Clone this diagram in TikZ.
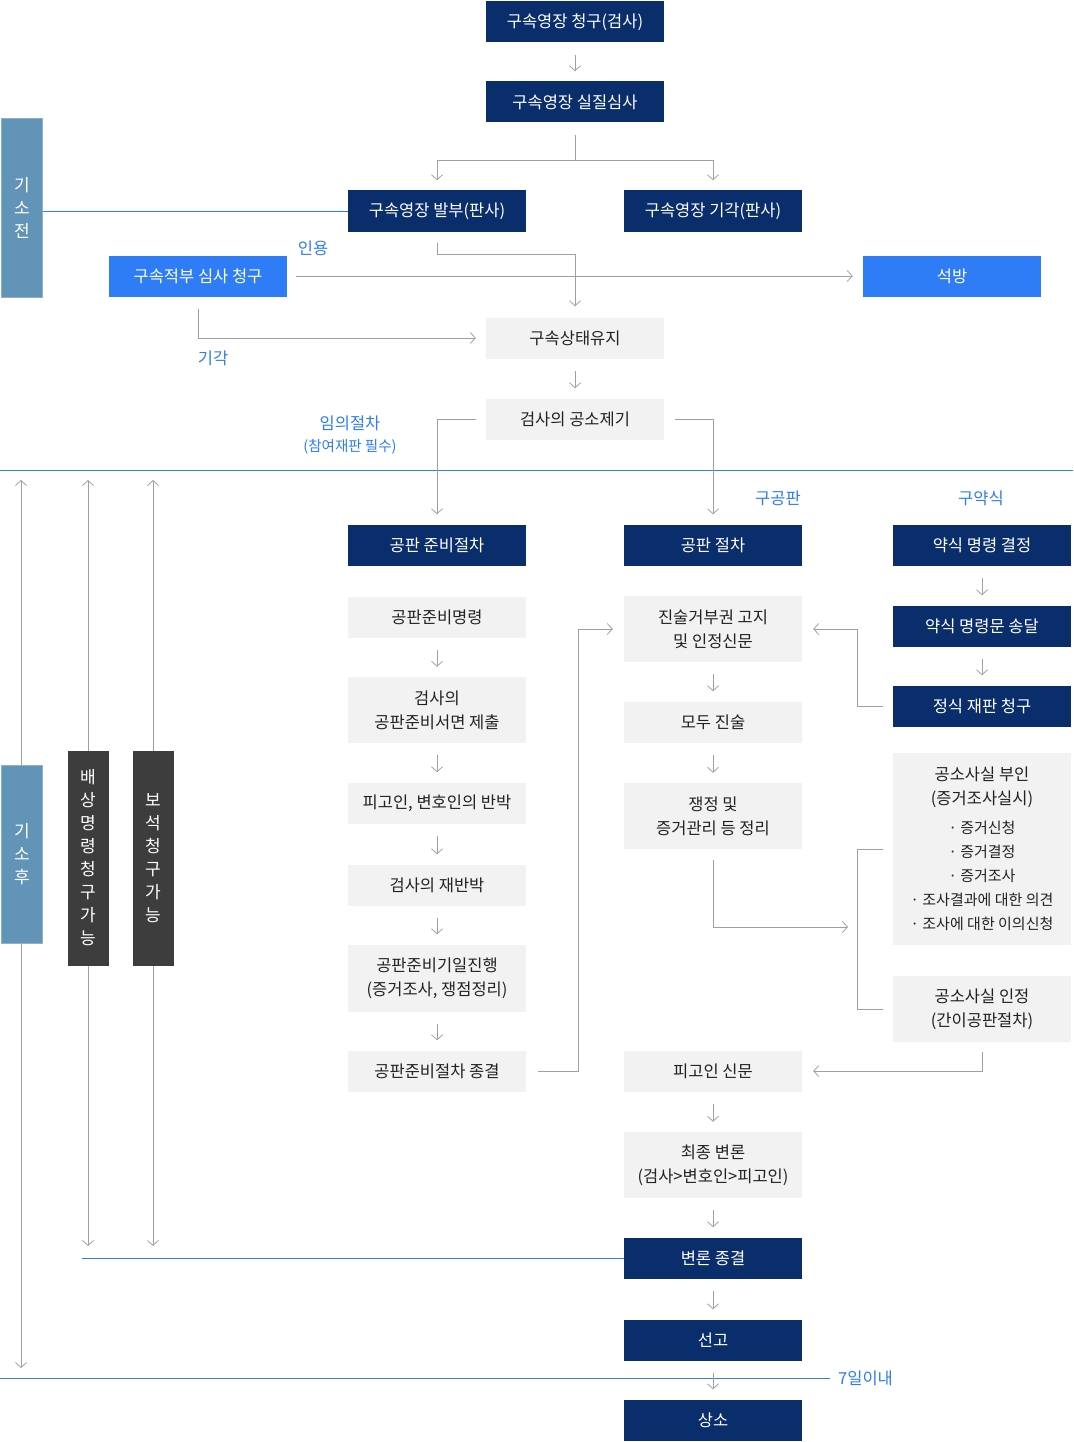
\documentclass[tikz,border=0pt]{standalone}
\usepackage{fontspec}
\setmainfont{Noto Sans CJK KR}
\usetikzlibrary{arrows.meta}
\definecolor{FillNavy}{RGB}{10,46,107}
\definecolor{FillBright}{RGB}{46,124,246}
\definecolor{FillSteel}{RGB}{98,148,183}
\definecolor{EdgeSteel}{RGB}{140,178,205}
\definecolor{FillStep}{RGB}{242,242,242}
\definecolor{FillDark}{RGB}{61,61,61}
\definecolor{TextDark}{RGB}{34,34,34}
\definecolor{LineGray}{RGB}{160,160,160}
\definecolor{LineBlue}{RGB}{46,124,246}
\newcommand{\bul}[1]{{\fontsize{15}{23}\selectfont · #1}}

\begin{document}
\begin{tikzpicture}[x=1pt, y=-1pt,
    navy/.style={fill=FillNavy, text=white, minimum width=178pt, minimum height=41pt, inner sep=0pt, align=center, font=\fontsize{16.5}{24}\selectfont},
    bright/.style={navy, fill=FillBright},
    stage/.style={navy, fill=FillStep, text=TextDark},
    side/.style={fill=FillSteel, draw=EdgeSteel, line width=1pt, text=white, minimum width=41pt, inner sep=0pt, align=center, font=\fontsize{17}{23}\selectfont},
    dark/.style={side, fill=FillDark, draw=none},
    tag/.style={text=LineBlue, inner sep=0pt, align=center, font=\fontsize{16.5}{22}\selectfont},
    conn/.style={draw=LineGray, line width=0.8pt},
    arr/.style={conn, -{Straight Barb[length=5pt, width=11pt]}},
    flow/.style={arr, shorten <=12pt, shorten >=10pt},
    dbl/.style={conn, {Straight Barb[length=5pt, width=11pt]}-{Straight Barb[length=5pt, width=11pt]}},
    rule/.style={draw=LineBlue, line width=1pt}
]
\useasboundingbox (0,0) rectangle (1073,1442);

%% ---- 기소 전/후 구분선 ----
\coordinate (splitL) at (0,470);
\coordinate (splitR) at (1073,470);
\draw[rule] (splitL) -- (splitR);

%% ---- 왼쪽 기간 표시 ----
\coordinate (afterT) at (21,480);
\coordinate (afterB) at (21,1368);
\coordinate (compT) at (88,480);
\coordinate (compB) at (88,1246);
\coordinate (bailT) at (153,480);
\coordinate (bailB) at (153,1246);
\draw[dbl] (afterT) -- (afterB);
\draw[dbl] (compT) -- (compB);
\draw[dbl] (bailT) -- (bailB);

\node[side, minimum height=179pt] (before) at (22,208) {기\\소\\전};
\node[side, minimum height=178pt] (after)  at (22,854) {기\\소\\후};
\node[dark, minimum height=215pt] (comp)   at (88,858) {배\\상\\명\\령\\청\\구\\가\\능};
\node[dark, minimum height=215pt] (bail)   at (153,858) {보\\석\\청\\구\\가\\능};

%% ---- 구속 단계 ----
\node[navy]   (claim)   at (575,22)  {구속영장 청구(검사)};
\node[navy]   (hearing) at (575,102) {구속영장 실질심사};
\node[navy]   (issue)   at (437,211) {구속영장 발부(판사)};
\node[navy]   (dismiss) at (713,211) {구속영장 기각(판사)};
\node[bright] (review)  at (198,276) {구속적부 심사 청구};
\node[bright] (release) at (952,276) {석방};
\node[stage]  (keep)    at (575,338) {구속상태유지};
\node[stage]  (indict)  at (575,419) {검사의 공소제기};

\node[tag] (accepttag) at (313,248) {인용};
\node[tag] (rejecttag) at (213,358) {기각};
\node[tag] (optional)  at (350,435) {임의절차\\{\fontsize{14.5}{22}\selectfont(참여재판 필수)}};
\node[tag] (trialtag)  at (778,498) {구공판};
\node[tag] (summtag)   at (981,498) {구약식};

%% ---- 공판 준비절차 ----
\node[navy]  (prep)     at (437,545)  {공판 준비절차};
\node[stage] (prepord)  at (437,617)  {공판준비명령};
\node[stage, minimum height=66pt] (prepdoc) at (437,710) {검사의\\공판준비서면 제출};
\node[stage] (rebut)    at (437,803)  {피고인, 변호인의 반박};
\node[stage] (rerebut)  at (437,885)  {검사의 재반박};
\node[stage, minimum height=67pt] (prepday) at (437,978) {공판준비기일진행\\(증거조사, 쟁점정리)};
\node[stage] (prepend)  at (437,1071) {공판준비절차 종결};

%% ---- 공판 절차 ----
\node[navy]  (trial)    at (713,545)  {공판 절차};
\node[stage, minimum height=66pt] (notice) at (713,629) {진술거부권 고지\\및 인정신문};
\node[stage] (opening)  at (713,722)  {모두 진술};
\node[stage, minimum height=66pt] (issues) at (713,816) {쟁정 및\\증거관리 등 정리};
\node[stage] (question) at (713,1071) {피고인 신문};
\node[stage, minimum height=66pt] (final) at (713,1165) {최종 변론\\(검사>변호인>피고인)};
\node[navy]  (close)    at (713,1258) {변론 종결};
\node[navy]  (sentence) at (713,1340) {선고};
\node[navy]  (appeal)   at (713,1420) {상소};

%% ---- 약식 절차 ----
\node[navy]  (summary)  at (982,545)  {약식 명령 결정};
\node[navy]  (deliver)  at (982,626)  {약식 명령문 송달};
\node[navy]  (formal)   at (982,706)  {정식 재판 청구};
\node[stage, minimum height=192pt] (denyfact) at (982,849)
  {공소사실 부인\\(증거조사실시)\\[5pt]\bul{증거신청}\\\bul{증거결정}\\\bul{증거조사}\\\bul{조사결과에 대한 의견}\\\bul{조사에 대한 이의신청}};
\node[stage, minimum height=66pt] (admit) at (982,1009) {공소사실 인정\\(간이공판절차)};

\node[tag, anchor=west] (sevendays) at (838,1378) {7일이내};

%% ---- 구분선 ----
\draw[rule] (before.east |- issue.west) -- (issue.west);
\coordinate (closeL) at (82,1258);
\draw[rule] (closeL) -- (close.west);
\coordinate (appealL) at (0,1378);
\draw[rule, shorten >=8pt] (appealL) -- (sevendays.west);

%% ---- 화살표 ----
\draw[flow] (claim) -- (hearing);
\draw[conn, shorten <=12pt] (hearing.south) -- ++(0,38) coordinate (fork);
\draw[arr, shorten >=10pt] (fork) -| (issue.north);
\draw[arr, shorten >=10pt] (fork) -| (dismiss.north);
\draw[arr, shorten <=11pt, shorten >=11pt] (issue.south) -- ++(0,23) -| (keep.north);
\draw[arr, shorten <=9pt, shorten >=10pt] (review) -- (release);
\draw[arr, shorten <=12pt, shorten >=10pt] (review.south) |- (keep.west);
\draw[flow] (keep) -- (indict);
\draw[arr, shorten <=10pt, shorten >=10pt] (indict.west) -| (prep.north);
\draw[arr, shorten <=11pt, shorten >=10pt] (indict.east) -| (trial.north);

\draw[flow] (prepord) -- (prepdoc);
\draw[flow] (prepdoc) -- (rebut);
\draw[flow] (rebut) -- (rerebut);
\draw[flow] (rerebut) -- (prepday);
\draw[flow] (prepday) -- (prepend);
\draw[arr, shorten <=12pt, shorten >=11pt] (prepend.east) -- ++(52,0) |- (notice.west);

\draw[flow] (notice) -- (opening);
\draw[flow] (opening) -- (issues);
\coordinate (brk) at (858,927);
\draw[arr, shorten <=11pt, shorten >=10pt] (issues.south) |- (brk);
\draw[conn, shorten <=10pt, shorten >=10pt] (denyfact.west) -- ++(-35,0) |- (admit.west);
\draw[arr, shorten <=10pt, shorten >=11pt] (admit.south) |- (question.east);
\draw[flow] (question) -- (final);
\draw[flow] (final) -- (close);
\draw[flow] (close) -- (sentence);
\draw[flow] (sentence) -- (appeal);

\draw[flow] (summary) -- (deliver);
\draw[flow] (deliver) -- (formal);
\draw[arr, shorten <=10pt, shorten >=11pt] (formal.west) -- ++(-35,0) |- (notice.east);

\end{tikzpicture}
\end{document}
